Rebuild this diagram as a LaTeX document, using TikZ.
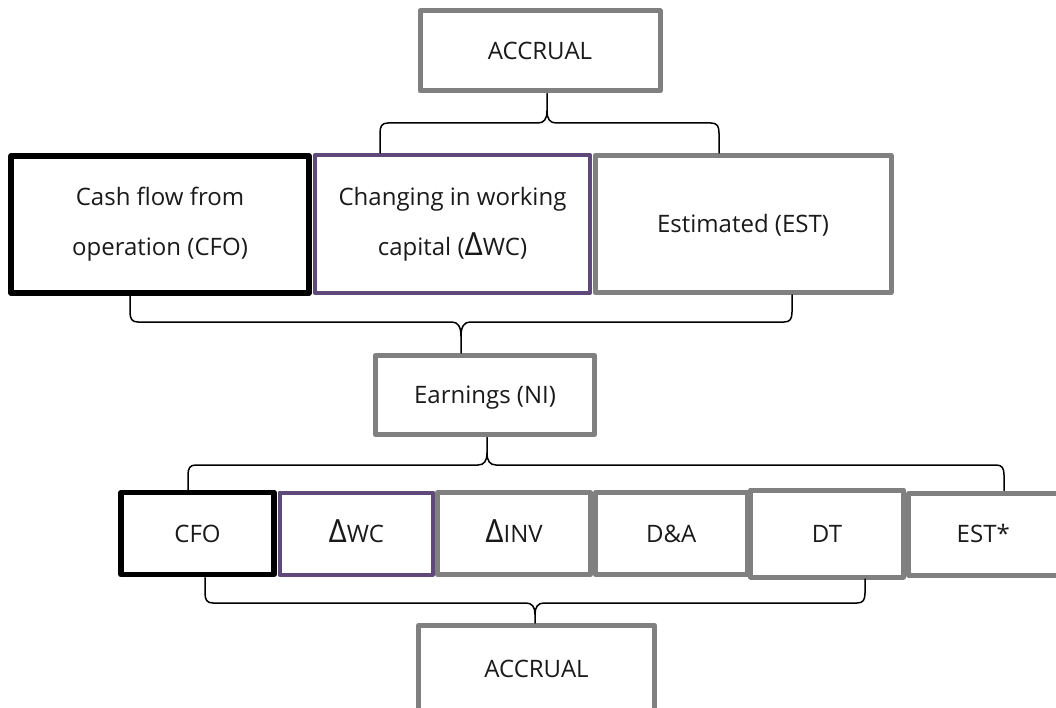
\documentclass[tikz,border=0pt]{standalone}
\usepackage{fontspec}
\setmainfont{Open Sans}
\definecolor{boxgray}{HTML}{808080}
\definecolor{boxpurple}{HTML}{5F497A}
\definecolor{txt}{HTML}{1A1A1A}
\newcommand{\dlt}{{\fontsize{32}{32}\selectfont Δ}}
\begin{document}
\begin{tikzpicture}[x=1pt,y=-1pt,
  base/.style={rectangle, fill=white, inner sep=0pt, outer sep=0pt, line join=round, align=center, text=txt, font=\fontsize{24}{50}\selectfont},
  one/.style={text height=17pt, text depth=0pt},
  gbox/.style={base, draw=boxgray, line width=5pt},
  kbox/.style={base, draw=black, line width=5.5pt},
  pbox/.style={base, draw=boxpurple, line width=4pt},
  brace/.style={draw=black, line width=1.5pt, line cap=round, line join=round}]
\useasboundingbox (0,0) rectangle (1056,708);
\clip (0,0) rectangle (1056,708);
\fill[white] (0,0) rectangle (1056,708);

% top
\node[gbox, one, minimum width=240pt, minimum height=80pt] (acc1) at (540,51) {ACCRUAL};

% row 1
\node[kbox, minimum width=298pt, minimum height=137pt] (cfo1) at (160,224.5) {Cash flow from\\operation (CFO)};
\node[pbox, minimum width=275pt, minimum height=138pt] (wc1) at (452.5,224) {Changing in working\\capital (\dlt WC)};
\node[gbox, one, minimum width=296pt, minimum height=137pt] (est1) at (743,224) {Estimated (EST)};

% earnings
\node[gbox, one, minimum width=219pt, minimum height=79pt] (ni) at (485,395) {Earnings (NI)};

% row 2
\node[kbox, one, minimum width=153pt, minimum height=82pt] (cfo2) at (197.5,533.5) {CFO};
\node[pbox, one, minimum width=153.5pt, minimum height=82pt] (wc2) at (356.25,533.5) {\dlt WC};
\node[gbox, one, minimum width=153pt, minimum height=82pt] (inv2) at (514,533.5) {\dlt INV};
\node[gbox, one, minimum width=151.5pt, minimum height=82pt] (da2) at (671.25,533.5) {D\&A};
\node[gbox, one, minimum width=153pt, minimum height=87pt] (dt2) at (827,533.5) {DT};
\node[gbox, one, minimum width=149.5pt, minimum height=81.5pt] (est2) at (983.25,534.25) {EST*};

% bottom
\node[gbox, one, minimum width=236pt, minimum height=86pt] (acc2) at (536.5,668.5) {ACCRUAL};

% brace coordinates
\coordinate (t1) at (547,93.5);
\coordinate (t2) at (461,353);
\coordinate (t3) at (487,437.5);
\coordinate (t4) at (535,623);

% brace 1: top ACCRUAL -> row 1
\draw[brace] (t1) -- (547,111) .. controls (547,119) and (544,123) .. (538,123) -- (388,123) .. controls (382,123) and (380,126) .. (380,133) -- (380,153);
\draw[brace] (547,111) .. controls (547,119) and (550,123) .. (556,123) -- (711,123) .. controls (717,123) and (719,126) .. (719,133) -- (719,153);

% brace 2: row 1 -> Earnings
\draw[brace] (t2) -- (461,336) .. controls (461,327) and (458,322) .. (452,322) -- (138,322) .. controls (132,322) and (130,319) .. (130,312) -- (130,295.5);
\draw[brace] (461,336) .. controls (461,327) and (464,322) .. (470,322) -- (784,322) .. controls (790,322) and (792,319) .. (792,312) -- (792,295);

% brace 3: Earnings -> row 2
\draw[brace] (t3) -- (487,453) .. controls (487,461) and (484,465) .. (478,465) -- (196,465) .. controls (190,465) and (188,468) .. (188,475) -- (188,490);
\draw[brace] (487,453) .. controls (487,461) and (490,465) .. (496,465) -- (996,465) .. controls (1002,465) and (1004,468) .. (1004,475) -- (1004,490.5);

% brace 4: row 2 -> bottom ACCRUAL
\draw[brace] (t4) -- (535,614) .. controls (535,607) and (532,603) .. (526,603) -- (213,603) .. controls (207,603) and (205,600) .. (205,593) -- (205,577.5);
\draw[brace] (535,614) .. controls (535,607) and (538,603) .. (544,603) -- (857,603) .. controls (863,603) and (865,600) .. (865,593) -- (865,579);
\end{tikzpicture}
\end{document}
